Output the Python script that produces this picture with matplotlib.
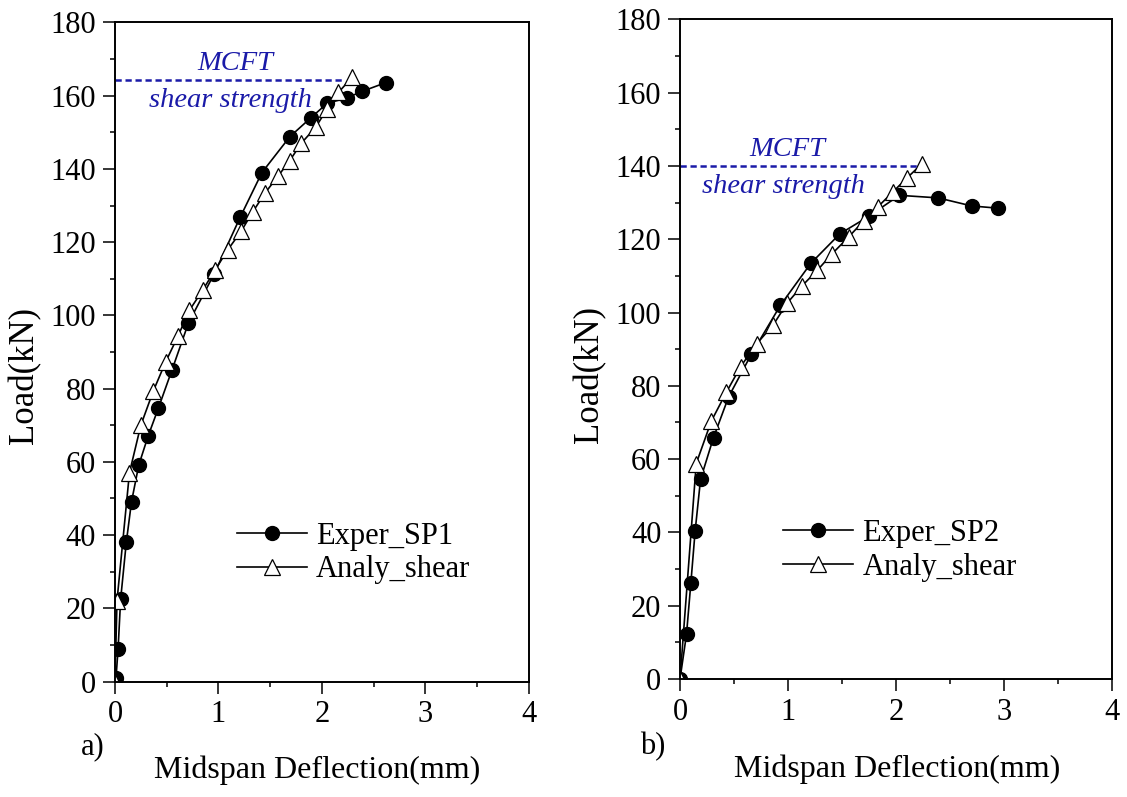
#%% import modules
import matplotlib.pyplot as plt
import numpy as np

plt.rcParams['font.family'] = ['Liberation Serif', 'DejaVu Serif']

#%% data
# a) specimen SP1
sp1_exp_x = [0.01, 0.03, 0.055, 0.11, 0.16, 0.23, 0.32, 0.42, 0.55, 0.71, 0.96,
             1.21, 1.42, 1.69, 1.89, 2.05, 2.24, 2.39, 2.62]
sp1_exp_y = [0.9, 8.8, 22.5, 38.1, 49.1, 59.1, 67.0, 74.7, 85.0, 97.9, 111.4,
             126.8, 139.0, 148.8, 153.9, 157.9, 159.4, 161.2, 163.6]
sp1_ana_x = [0.0, 0.02, 0.14, 0.25, 0.37, 0.49, 0.61, 0.72, 0.85, 0.97, 1.09,
             1.22, 1.33, 1.45, 1.58, 1.69, 1.80, 1.94, 2.05, 2.16, 2.29]
sp1_ana_y = [0.0, 22.1, 57.0, 70.0, 79.3, 87.3, 94.4, 101.4, 107.0, 112.5, 117.9,
             123.0, 128.2, 133.4, 138.2, 142.3, 147.0, 151.4, 156.4, 160.9, 165.0]
sp1_mcft = 164.3

# b) specimen SP2
sp2_exp_x = [0.0, 0.06, 0.10, 0.14, 0.19, 0.31, 0.45, 0.66, 0.93, 1.21, 1.48,
             1.75, 2.03, 2.39, 2.70, 2.94]
sp2_exp_y = [0.0, 12.2, 26.1, 40.4, 54.5, 65.9, 77.0, 88.6, 102.0, 113.4, 121.5,
             126.3, 132.0, 131.3, 129.1, 128.5]
sp2_ana_x = [0.0, 0.15, 0.29, 0.43, 0.56, 0.71, 0.86, 0.99, 1.13, 1.27, 1.41,
             1.56, 1.70, 1.83, 1.97, 2.10, 2.24]
sp2_ana_y = [0.0, 58.8, 70.4, 78.3, 85.2, 91.5, 96.5, 102.5, 107.3, 111.5, 116.1,
             120.6, 125.0, 128.8, 132.9, 136.7, 140.6]
sp2_mcft = 140.0

labels_exp = ['Exper_SP1', 'Exper_SP2']
label_ana = 'Analy_shear'
panel_tags = ['a)', 'b)']

#%% canvas
fig = plt.figure(figsize=(11.27, 7.97), dpi=100)
ax1 = fig.add_axes([0.1020, 0.1449, 0.3673, 0.8269])
ax2 = fig.add_axes([0.6034, 0.1481, 0.3833, 0.8275])

blue = '#1a1aa8'


def draw_panel(ax, ex, ey, anx, any_, mcft, mcft_end, txt_x, lab, leg_x):
    ax.plot(ex, ey, '-', color='black', lw=1.2, marker='o', ms=10,
            mfc='black', mec='black', label=lab)
    ax.plot(anx, any_, '-', color='black', lw=1.2, marker='^', ms=11,
            mfc='white', mec='black', mew=0.9, label=label_ana)
    # MCFT shear strength line
    ax.plot([0, mcft_end], [mcft, mcft], ls=(0, (2.5, 1.5)), color=blue, lw=1.8)
    ax.text(txt_x[0], mcft + 4.5, 'MCFT', color=blue, style='italic',
            fontsize=20.5, ha='center', va='center')
    ax.text(txt_x[1], mcft - 5.5, 'shear strength', color=blue, style='italic',
            fontsize=20.5, ha='center', va='center')

    ax.set_xlim(0, 4)
    ax.set_ylim(0, 180)
    ax.set_xticks([0, 1, 2, 3, 4])
    ax.set_xticks(np.arange(0.5, 4, 1), minor=True)
    ax.set_yticks(np.arange(0, 181, 20))
    ax.set_yticks(np.arange(10, 180, 20), minor=True)
    ax.tick_params(which='major', direction='out', length=8.5, width=1.1,
                   labelsize=22, pad=5)
    ax.tick_params(which='minor', direction='out', length=3.8, width=1.1)
    for s in ax.spines.values():
        s.set_linewidth(1.4)

    ax.set_xlabel('Midspan Deflection(mm)', fontsize=23)
    ax.set_ylabel('Load(kN)', fontsize=25)

    ax.legend(loc='center left', bbox_to_anchor=(leg_x, 0.195), frameon=False,
              fontsize=22, handlelength=2.3, handletextpad=0.3,
              labelspacing=0.15, borderpad=0, borderaxespad=0)


draw_panel(ax1, sp1_exp_x, sp1_exp_y, sp1_ana_x, sp1_ana_y, sp1_mcft, 2.2,
           (1.16, 1.12), labels_exp[0], 0.294)
draw_panel(ax2, sp2_exp_x, sp2_exp_y, sp2_ana_x, sp2_ana_y, sp2_mcft, 2.19,
           (0.99, 0.96), labels_exp[1], 0.238)

#%% label positions
ax1.xaxis.set_label_coords(0.488, -0.134)
ax1.xaxis.label.set_va('center')
ax1.yaxis.set_label_coords(-0.218, 0.465)
ax2.xaxis.set_label_coords(0.502, -0.137)
ax2.xaxis.label.set_va('center')
ax2.yaxis.set_label_coords(-0.208, 0.462)
ax1.yaxis.label.set_va('center')
ax2.yaxis.label.set_va('center')

fig.text(93 / 1127, 1 - 747 / 797, panel_tags[0], fontsize=22, ha='center', va='center')
fig.text(653 / 1127, 1 - 747 / 797, panel_tags[1], fontsize=22, ha='center', va='center')

fig.savefig('out.png', dpi=100)
